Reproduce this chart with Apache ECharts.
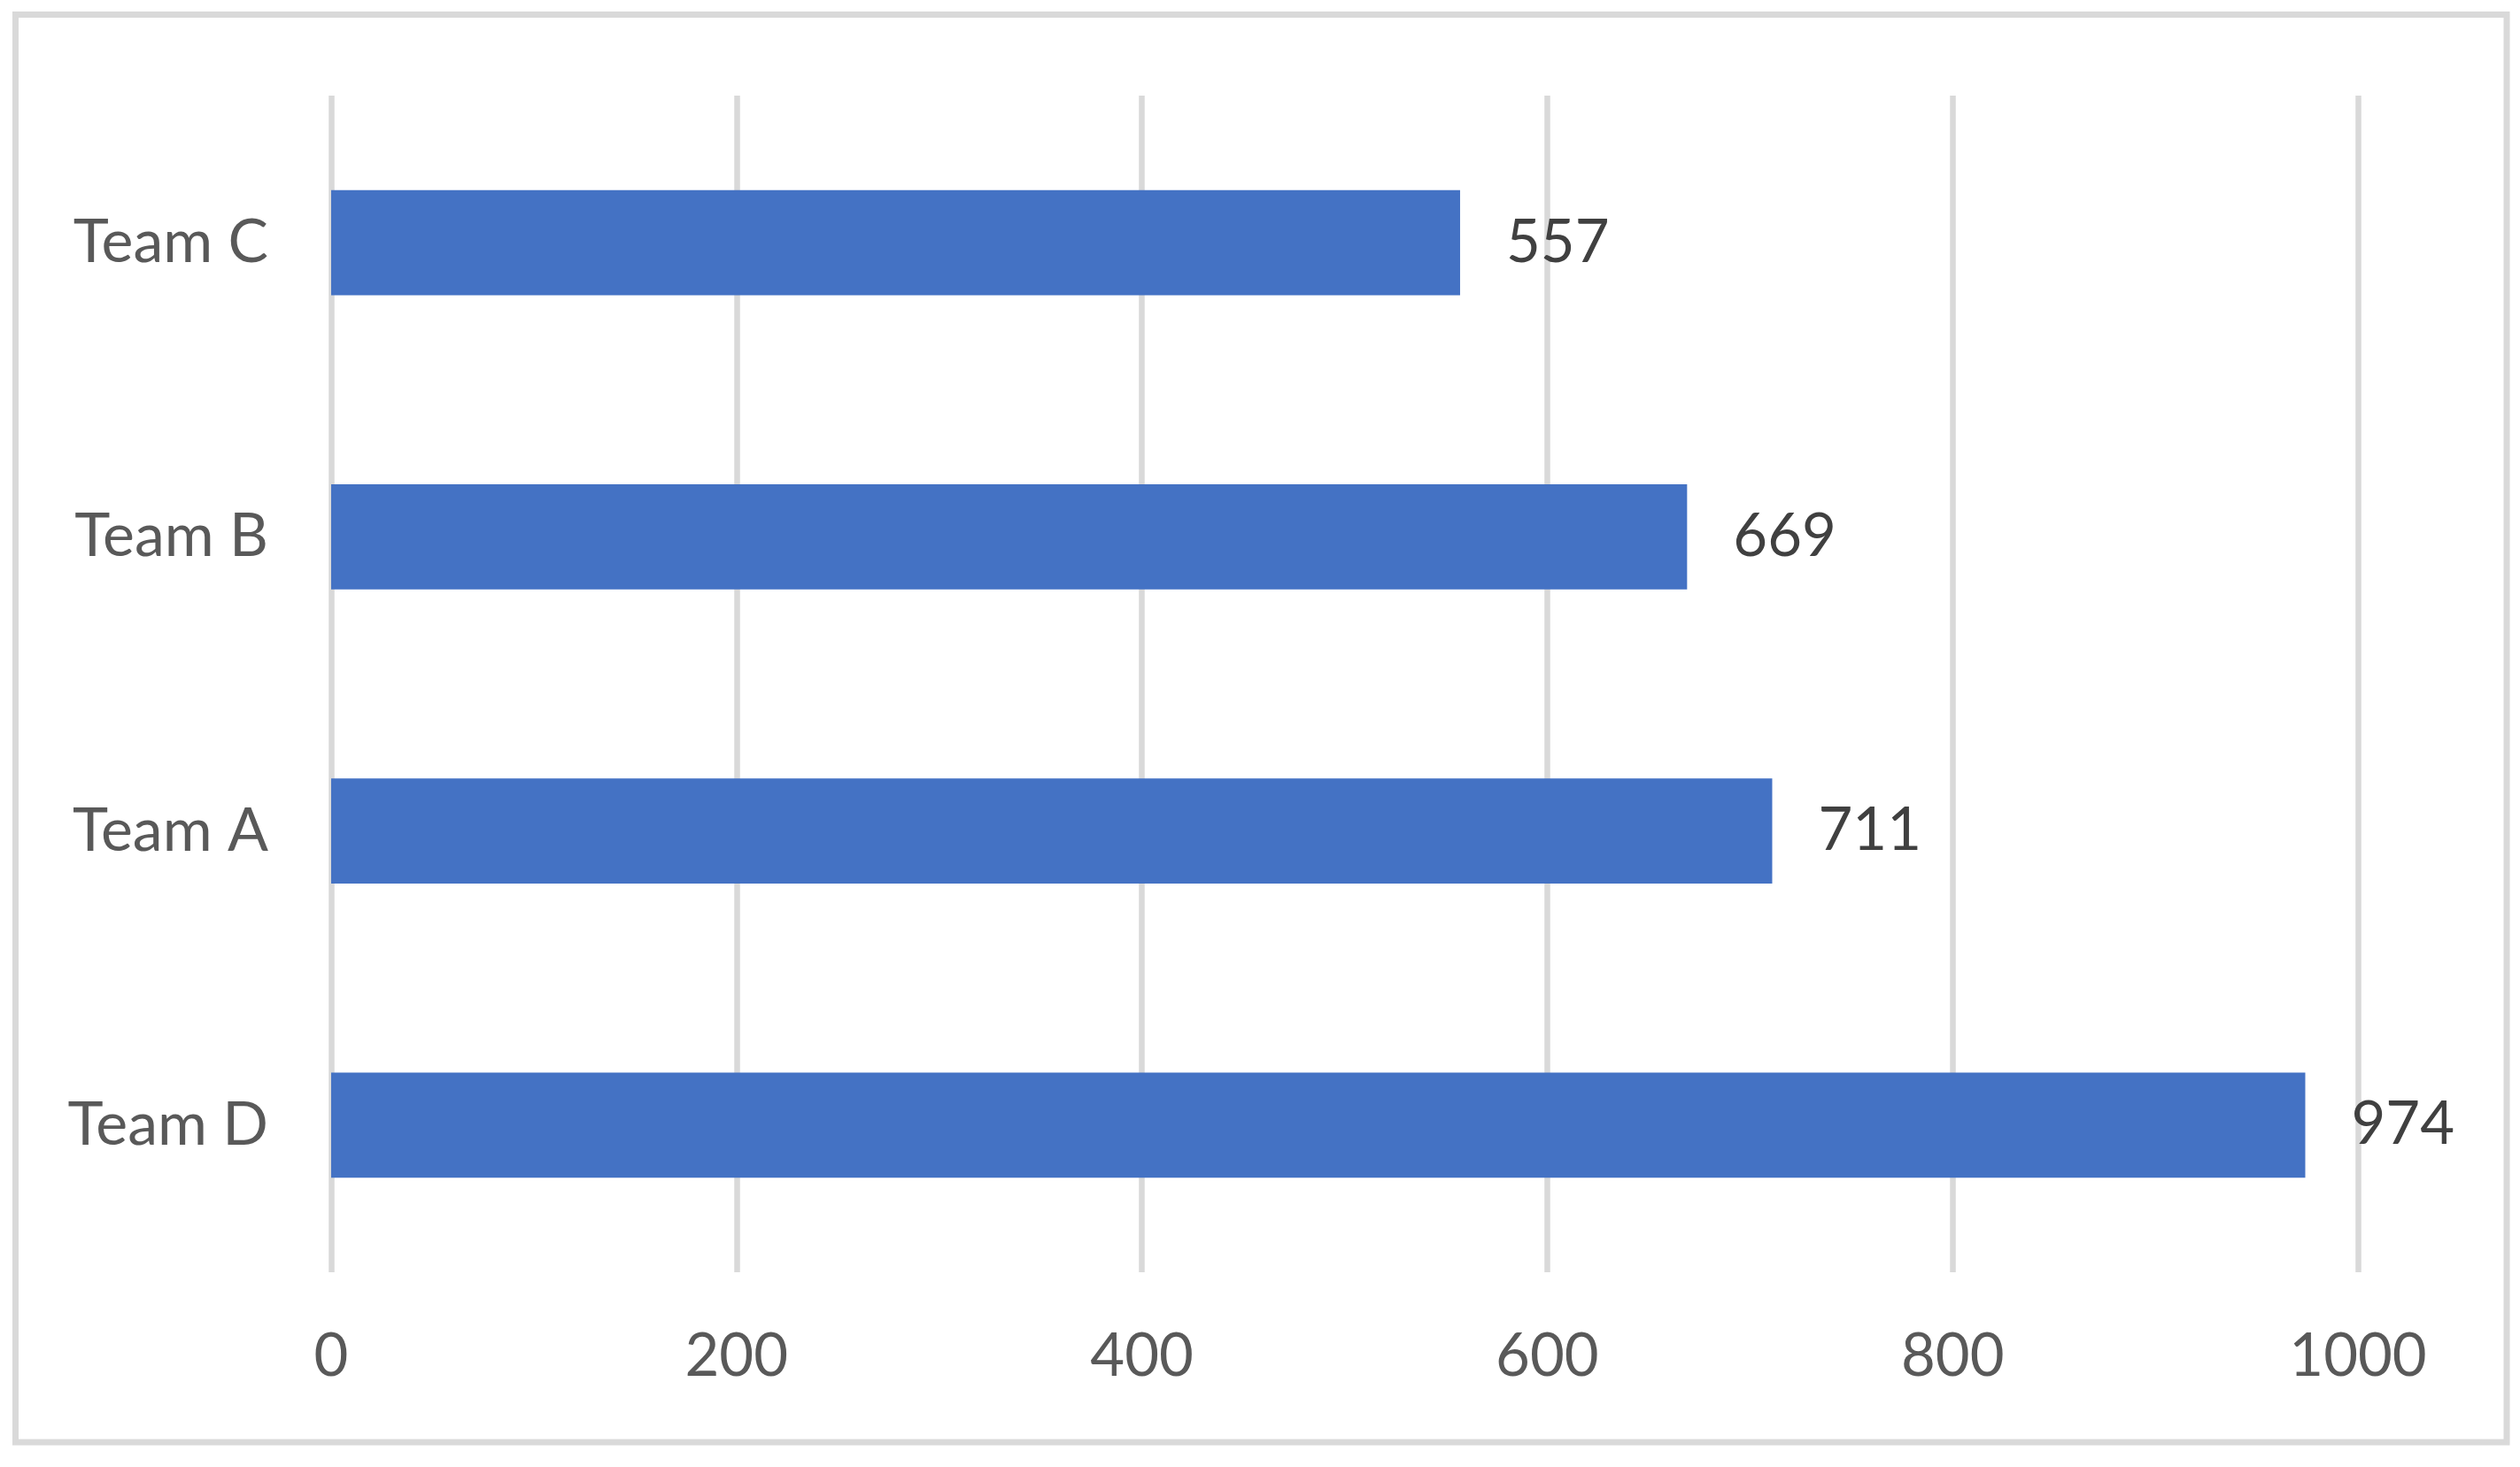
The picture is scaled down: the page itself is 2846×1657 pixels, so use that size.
<!DOCTYPE html>
<html>
<head>
<meta charset="utf-8">
<script src="https://cdn.jsdelivr.net/npm/echarts@6/dist/echarts.min.js"></script>
<style>
  html, body { margin: 0; padding: 0; background: #ffffff; }
  #chart { width: 2846px; height: 1657px; }
</style>
</head>
<body>
<div id="chart"></div>
<script>
const categories = ['Team D', 'Team A', 'Team B', 'Team C'];
const values = [974, 711, 669, 557];
const xTicks = [0, 200, 400, 600, 800, 1000];

const FONT = 'Lato';
const chart = echarts.init(document.getElementById('chart'), null, { renderer: 'canvas' });
chart.setOption({
  backgroundColor: '#ffffff',
  animation: false,
  graphic: [{
    type: 'rect',
    shape: { x: 17.5, y: 16.5, width: 2813.5, height: 1612.5 },
    style: { fill: 'none', stroke: '#d9d9d9', lineWidth: 7 },
    z: 0
  }],
  grid: { left: 374, right: 183, top: 108, bottom: 220, containLabel: false },
  xAxis: {
    type: 'value',
    min: xTicks[0],
    max: xTicks[xTicks.length - 1],
    interval: xTicks[1] - xTicks[0],
    axisLine: { show: false },
    axisTick: { show: false },
    splitLine: { show: true, lineStyle: { color: '#d9d9d9', width: 6.5 } },
    axisLabel: {
      color: '#595959', fontSize: 67, fontFamily: FONT, margin: 62,
      formatter: function (v) { return String(v); }
    }
  },
  yAxis: {
    type: 'category',
    data: categories,
    axisLine: { show: false },
    axisTick: { show: false },
    splitLine: { show: false },
    axisLabel: { color: '#595959', fontSize: 68, fontFamily: FONT, margin: 71 }
  },
  series: [{
    type: 'bar',
    data: values,
    barWidth: '35.8%',
    itemStyle: { color: '#4472c4' },
    label: {
      show: true,
      position: 'right',
      distance: 52,
      color: '#404040',
      fontSize: 67,
      fontFamily: FONT
    }
  }]
});
</script>
</body>
</html>
